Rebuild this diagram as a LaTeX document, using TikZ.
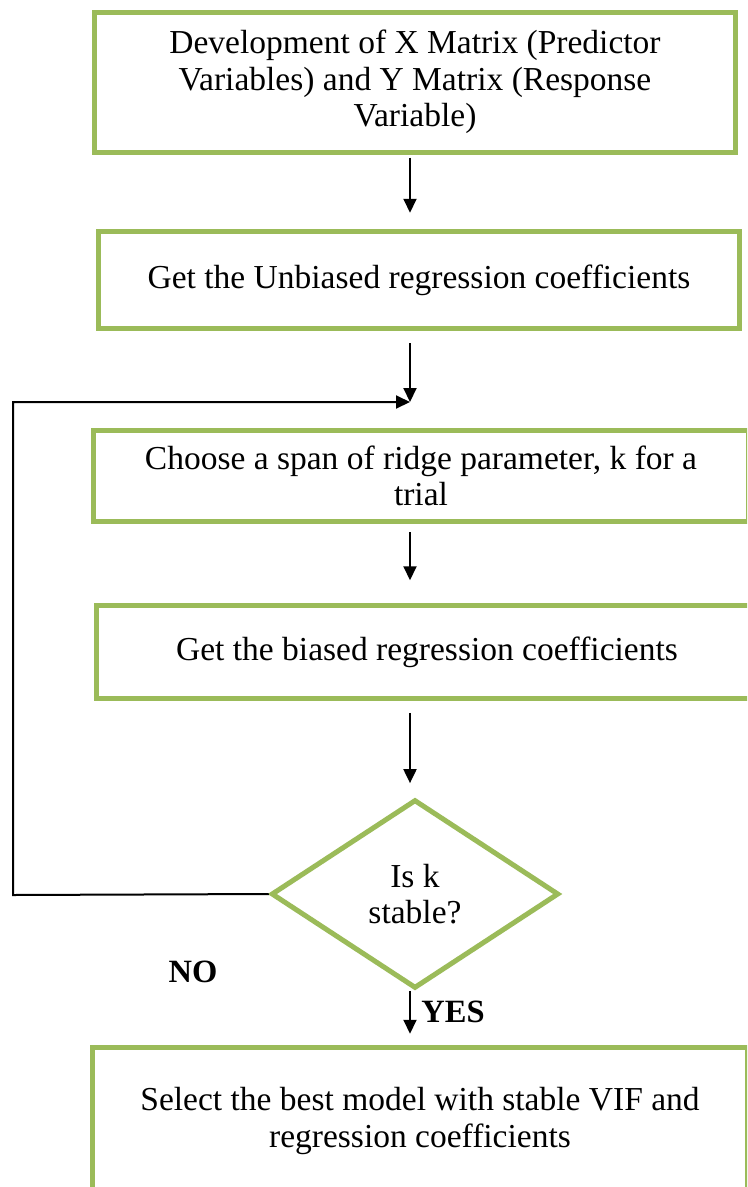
\documentclass[tikz,border=0pt]{standalone}
\usepackage{fontspec}
\setmainfont{Liberation Serif}
\usetikzlibrary{arrows.meta,shapes.geometric}
\definecolor{grn}{HTML}{9BBB59}
\tikzset{
  stepbox/.style={draw=grn, line width=2pt, rectangle, align=center, inner sep=0pt,
    font=\fontsize{13.4}{14.6}\selectfont},
  check/.style={draw=grn, line width=2pt, diamond, align=center, inner sep=0pt,
    minimum width=115pt, minimum height=75.5pt, font=\fontsize{13.4}{14.6}\selectfont},
  arr/.style={line width=0.8pt, -{Triangle[length=5.6pt,width=5.2pt]}},
  lbl/.style={font=\fontsize{13}{14.6}\selectfont\bfseries},
}

\begin{document}
\begin{tikzpicture}[x=0.4pt,y=-0.4pt]
 \useasboundingbox (0,0) rectangle (747,1187);
 \clip (0,0) rectangle (747,1187);
 \fill[white] (0,0) rectangle (747,1187);
 % boxes
 \node[stepbox, minimum width=256pt, minimum height=56pt] (dev) at (415,82)
   {Development of X Matrix (Predictor\\ Variables) and Y Matrix (Response\\ Variable)};
 \node[stepbox, minimum width=256pt, minimum height=39pt] (unb) at (419,280)
   {Get the Unbiased regression coefficients};
 \node[stepbox, minimum width=262pt, minimum height=36.5pt] (span) at (421,476)
   {Choose a span of ridge parameter, k for a\\ trial};
 \node[stepbox, minimum width=264pt, minimum height=37pt] (bias) at (427,652)
   {Get the biased regression coefficients};
 \node[check] (chk) at (415,894) {Is k\\ stable?};
 \node[stepbox, minimum width=262pt, minimum height=59pt] (best) at (420,1121)
   {Select the best model with stable VIF and\\ regression coefficients};
 \node[lbl] (no) at (193,972) {NO};
 \node[lbl] (yes) at (453,1012) {YES};
 % connectors
 \coordinate (spine) at (410,0);
 \coordinate (join) at (410,402);
 \coordinate (back) at (13,895);
 \draw[arr, shorten <=1.2pt, shorten >=6.4pt] (dev.south -| spine) -- (unb.north -| spine);
 \draw[arr, shorten <=4.8pt] (unb.south -| spine) -- (join);
 \draw[arr, shorten <=3.2pt, shorten >=9.2pt] (span.south -| spine) -- (bias.north -| spine);
 \draw[arr, shorten <=4.8pt, shorten >=5.6pt] (bias.south -| spine) -- (chk.north -| spine);
 \draw[arr, shorten >=4.4pt] (chk.south -| spine) -- (best.north -| spine);
 \draw[arr] (chk.west) -- (back) |- (join);
\end{tikzpicture}
\end{document}
